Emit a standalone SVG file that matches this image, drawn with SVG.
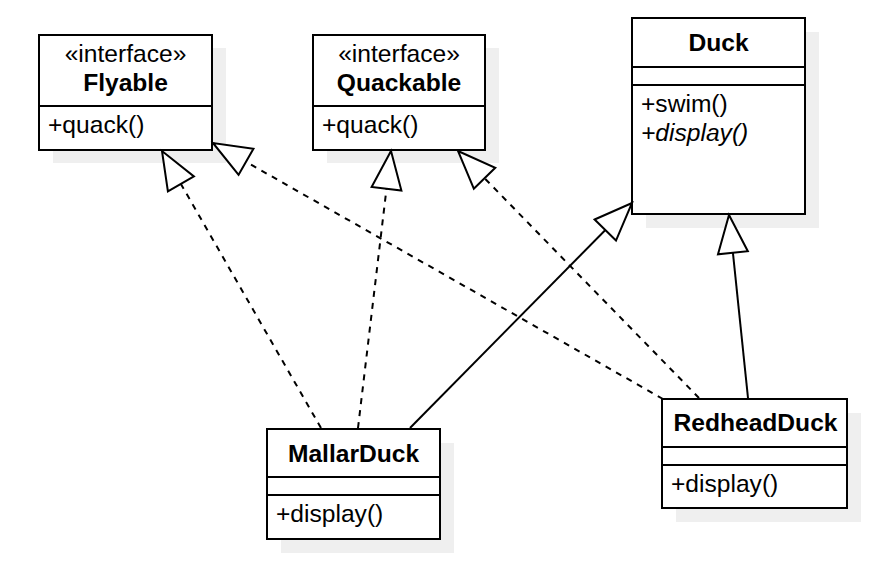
<svg xmlns="http://www.w3.org/2000/svg" width="894" height="562" viewBox="0 0 894 562">
  <style>
    .shadow { fill: #efefef; stroke: none; }
    .box { fill: #ffffff; stroke: #000000; stroke-width: 2; }
    .div { stroke: #000000; stroke-width: 2; fill: none; }
    text { font-family: "Liberation Sans", Arial, sans-serif; font-size: 24.6px; fill: #000000; }
    .title { font-weight: bold; text-anchor: middle; }
    .stereo { text-anchor: middle; }
    .ital { font-style: italic; }
    .edge { fill: none; stroke: #000000; stroke-width: 2; marker-end: url(#tri); }
    .dashed { stroke-dasharray: 6 6; }
  </style>
  <defs>
    <marker id="tri" markerUnits="userSpaceOnUse" markerWidth="44" markerHeight="36" refX="40" refY="17" orient="auto" overflow="visible">
      <path d="M2,2 L40,17 L2,32 Z" fill="#ffffff" stroke="#000000" stroke-width="2" stroke-linejoin="miter"/>
    </marker>
  </defs>
  <rect width="894" height="562" fill="#ffffff"/>

  <g id="flyable">
    <rect class="shadow" x="53" y="48" width="173" height="115"/>
    <rect class="box" x="39" y="35" width="173" height="115"/>
    <line class="div" x1="39" y1="106" x2="213" y2="106"/>
    <text class="stereo" x="125.5" y="62">«interface»</text>
    <text class="title" x="125.5" y="91">Flyable</text>
    <text x="48" y="133">+quack()</text>
  </g>

  <g id="quackable">
    <rect class="shadow" x="327" y="48" width="172" height="115"/>
    <rect class="box" x="313" y="35" width="172" height="115"/>
    <line class="div" x1="313" y1="106" x2="486" y2="106"/>
    <text class="stereo" x="399" y="62">«interface»</text>
    <text class="title" x="399" y="91">Quackable</text>
    <text x="322" y="133">+quack()</text>
  </g>

  <g id="duck">
    <rect class="shadow" x="646" y="32" width="173" height="196"/>
    <rect class="box" x="632" y="18" width="173" height="196"/>
    <line class="div" x1="632" y1="67" x2="806" y2="67"/>
    <line class="div" x1="632" y1="85" x2="806" y2="85"/>
    <text class="title" x="718.5" y="51">Duck</text>
    <text x="641" y="112">+swim()</text>
    <text class="ital" x="641" y="141">+display()</text>
  </g>

  <g id="mallarduck">
    <rect class="shadow" x="281" y="443" width="173" height="110"/>
    <rect class="box" x="267" y="429" width="173" height="110"/>
    <line class="div" x1="267" y1="477" x2="441" y2="477"/>
    <line class="div" x1="267" y1="495" x2="441" y2="495"/>
    <text class="title" x="353.5" y="462">MallarDuck</text>
    <text x="276" y="522">+display()</text>
  </g>

  <g id="redheadduck">
    <rect class="shadow" x="676" y="413" width="185" height="109"/>
    <rect class="box" x="662" y="399" width="185" height="109"/>
    <line class="div" x1="662" y1="447" x2="848" y2="447"/>
    <line class="div" x1="662" y1="465" x2="848" y2="465"/>
    <text class="title" x="755.5" y="431">RedheadDuck</text>
    <text x="671" y="492">+display()</text>
  </g>

  <g id="connectors">
    <path class="edge dashed" d="M321,428 L162,151"/>
    <path class="edge dashed" d="M358,428 L391,151"/>
    <path class="edge" d="M410,428 L632,203"/>
    <path class="edge dashed" d="M663,399 L213,143"/>
    <path class="edge dashed" d="M699,398 L458,151"/>
    <path class="edge" d="M748,398 L729,215"/>
  </g>
</svg>
